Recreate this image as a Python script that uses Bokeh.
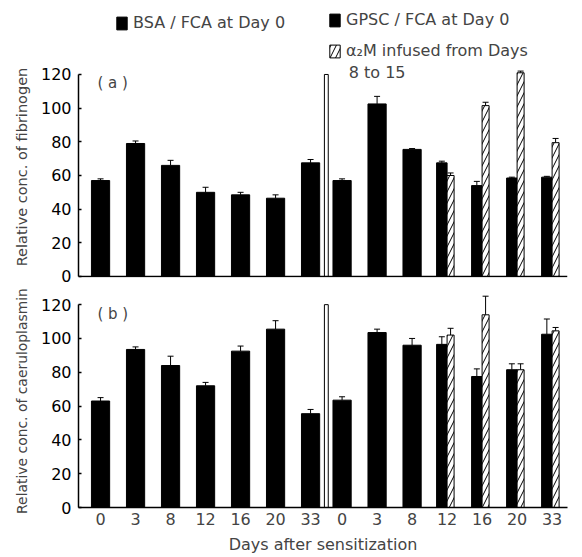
import numpy as np
from bokeh.plotting import figure
from bokeh.layouts import column
from bokeh.models import (FixedTicker, Whisker, TeeHead, Legend, LegendItem,
                          Label, ColumnDataSource, Range1d, Span)
from bokeh.embed import file_html
from bokeh.resources import INLINE

# ---------------- data ----------------
days = ["0", "3", "8", "12", "16", "20", "33"]
a2m_days = ["12", "16", "20", "33"]

fib_bsa = [57, 79, 66, 50, 48.5, 46.5, 67.5]
fib_bsa_err = [1, 1.5, 3, 3, 1.5, 2, 2]
fib_gpsc = [57, 102.5, 75.5, 67.5, 54, 58.5, 59]
fib_gpsc_err = [1, 4.5, 0.5, 1, 2.5, 0.5, 0.5]
fib_a2m = [60, 101.5, 121, 79.5]
fib_a2m_err = [1.5, 2, 1, 2.5]

cer_bsa = [63, 93.5, 84, 72, 92.5, 105.5, 55.5]
cer_bsa_err = [2, 1.5, 5.5, 2, 3, 5, 2.5]
cer_gpsc = [63.5, 103.5, 96, 96.5, 77.5, 81.5, 102.5]
cer_gpsc_err = [2, 2, 4, 4.5, 4.5, 3.5, 9]
cer_a2m = [102, 114, 81.5, 104.5]
cer_a2m_err = [4, 11, 3.5, 2]

divider_height = 120
y_ticks = [0, 20, 40, 60, 80, 100, 120]

# ---------------- layout constants ----------------
FONT = "DejaVu Sans"
NB = "\u00a0"
BSA_X = np.arange(len(days)) * 1.0
GPSC_X = np.round(np.arange(len(days)) + 6.9, 2)
DIV_X = 6.45
FULL_W = 0.52
BLK_W, HAT_W = 0.3, 0.2
XR = (-0.63, 13.34)


def panel(bsa, bsa_err, gpsc, gpsc_err, a2m, a2m_err, ylabel, ylabel_size, letter,
          letter_y, height, btop, bbottom, yrange, bottom_axis):
    kw = {} if bottom_axis else dict(x_axis_location=None)
    p = figure(width=582, height=height, output_backend="svg", toolbar_location=None,
               x_range=Range1d(*XR), y_range=Range1d(*yrange),
               min_border_left=78, min_border_right=15,
               min_border_top=btop, min_border_bottom=bbottom, **kw)
    p.outline_line_color = None
    p.xgrid.visible = False
    p.ygrid.visible = False
    p.background_fill_color = "white"
    p.border_fill_color = "white"

    n_full = len(gpsc) - len(a2m)
    r_bsa = p.vbar(x=BSA_X, top=bsa, width=FULL_W, fill_color="black", line_color="black")
    r_gpsc = p.vbar(x=GPSC_X[:n_full], top=gpsc[:n_full], width=FULL_W,
                    fill_color="black", line_color="black")
    blk_x = GPSC_X[n_full:] - BLK_W / 2
    hat_x = GPSC_X[n_full:] + HAT_W / 2
    p.vbar(x=blk_x, top=gpsc[n_full:], width=BLK_W, fill_color="black", line_color="black")
    r_a2m = p.vbar(x=hat_x, top=a2m, width=HAT_W, fill_color="white", line_color="black",
                   line_width=1, hatch_pattern="/", hatch_color="black", hatch_scale=11,
                   hatch_weight=1)
    p.vbar(x=[DIV_X], top=[divider_height], width=0.11, fill_color="white",
           line_color="black", line_width=1)

    ex = list(BSA_X) + list(GPSC_X[:n_full]) + list(blk_x) + list(hat_x)
    ev = list(bsa) + list(gpsc) + list(a2m)
    ee = list(bsa_err) + list(gpsc_err) + list(a2m_err)
    src = ColumnDataSource(dict(x=ex, lo=ev, hi=[v + e for v, e in zip(ev, ee)]))
    w = Whisker(base="x", lower="lo", upper="hi", source=src, lower_head=None,
                upper_head=TeeHead(size=6, line_width=1, line_color="black"),
                line_width=1, line_color="black")
    p.add_layout(w)

    ya = p.yaxis[0]
    ya.ticker = FixedTicker(ticks=y_ticks)
    ya.bounds = (0, 120)
    ya.minor_tick_line_color = None
    ya.major_tick_in = 3
    ya.major_tick_out = 0
    ya.major_label_standoff = 7
    ya.axis_line_width = 1.5
    ya.major_tick_line_width = 1.5
    ya.axis_label = ylabel
    ya.axis_label_standoff = 8
    ya.axis_label_text_font = FONT
    ya.axis_label_text_font_style = "normal"
    ya.axis_label_text_font_size = ylabel_size
    ya.major_label_text_font = FONT
    ya.major_label_text_font_size = "16px"
    ya.major_label_text_color = "black"

    if bottom_axis:
        xa = p.xaxis[0]
        xa.axis_line_width = 1.5
        xa.minor_tick_line_color = None
        xa.major_tick_line_color = None
        xa.major_tick_out = 0
        xa.major_tick_in = 0
        ticks = list(BSA_X) + list(GPSC_X)
        xa.ticker = FixedTicker(ticks=ticks)
        xa.major_label_overrides = {float(t): d for t, d in zip(ticks, days + days)}
        xa.major_label_standoff = 5
        xa.major_label_text_font = FONT
        xa.major_label_text_font_size = "16px"
        xa.axis_label = "Days after sensitization"
        xa.axis_label_standoff = 7
        xa.axis_label_text_font = FONT
        xa.axis_label_text_font_style = "normal"
        xa.axis_label_text_font_size = "16px"
    else:
        p.add_layout(Span(location=0, dimension="width", line_color="black", line_width=1.5))

    p.add_layout(Label(x=-0.09, y=letter_y, text=letter, text_font=FONT,
                       text_font_size="15px", text_baseline="middle", text_align="left"))
    return p, r_bsa, r_gpsc, r_a2m


# non-breaking-space padding keeps the rotated title where the reference has it
p1, r_bsa, r_gpsc, r_a2m = panel(fib_bsa, fib_bsa_err, fib_gpsc, fib_gpsc_err, fib_a2m,
                                 fib_a2m_err, "Relative conc. of fibrinogen" + NB * 10,
                                 "14.5px", "( a )", 114.7, 287, 10, 10, (-0.594, 158.0),
                                 False)
p2, _, _, _ = panel(cer_bsa, cer_bsa_err, cer_gpsc, cer_gpsc_err, cer_a2m, cer_a2m_err,
                    "Relative conc. of caeruloplasmin", "13.9px", "( b )", 114.7,
                    269, 7, 48, (0, 126), True)

leg_style = dict(glyph_width=13, glyph_height=16, label_height=16, label_standoff=5,
                 padding=0, margin=0, border_line_color=None, background_fill_alpha=0,
                 label_text_font=FONT, label_text_font_size="16px", spacing=12)
leg1 = Legend(items=[LegendItem(label="BSA / FCA at Day 0", renderers=[r_bsa])],
              location=(37, 245), **leg_style)
leg2 = Legend(items=[LegendItem(label="GPSC / FCA at Day 0", renderers=[r_gpsc]),
                     LegendItem(label="α₂M infused from Days", renderers=[r_a2m])],
              location=(250, 217), **leg_style)
p1.add_layout(leg1)
p1.add_layout(leg2)
p1.add_layout(Label(x=7.09, y=121.2, text="8 to 15", text_font=FONT, text_font_size="16px",
                    text_baseline="middle", text_align="left"))

layout = column(p1, p2, spacing=0)
open("out.html", "w").write(file_html(layout, INLINE))
